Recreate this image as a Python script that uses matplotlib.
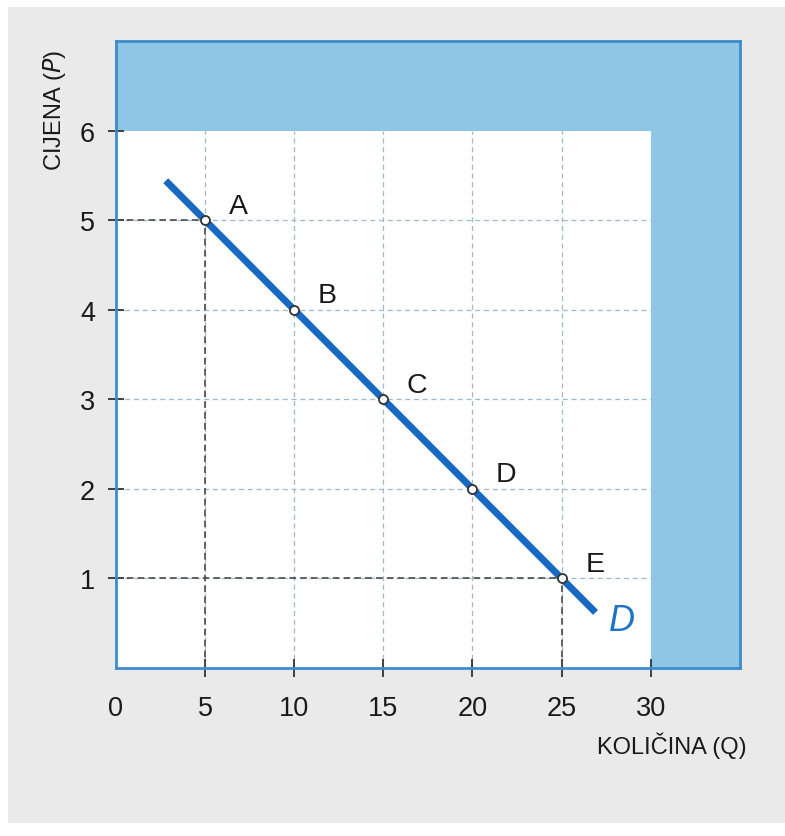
import matplotlib
matplotlib.use("Agg")
import matplotlib.pyplot as plt
from matplotlib.patches import Rectangle

# ---- data ----
point_q = [5, 10, 15, 20, 25]
point_p = [5, 4, 3, 2, 1]
point_labels = ["A", "B", "C", "D", "E"]
demand_q = [2.8, 26.9]
demand_p = [5.44, 0.62]
x_ticks = [0, 5, 10, 15, 20, 25, 30]
y_ticks = [1, 2, 3, 4, 5, 6]
grid_x = [5, 10, 15, 20, 25]
grid_y = [1, 2, 3, 4, 5]

plt.rcParams['font.family'] = ['Liberation Sans', 'DejaVu Sans']

W, H = 785, 837
fig = plt.figure(figsize=(W / 100, H / 100), dpi=100, facecolor="white")

# paper background
fig.patches.append(Rectangle((8 / W, 1 - 824 / H), 1 - 8 / W, (824 - 8) / H,
                             transform=fig.transFigure, facecolor="#eaeaea",
                             edgecolor="none", zorder=-10))

ax = fig.add_axes([115.8 / W, 1 - 669 / H, (740 - 115.8) / W, (669 - 42) / H])
ax.set_xlim(0, 35)
ax.set_ylim(0, 7)
ax.set_facecolor("#8fc6e6")
for s in ax.spines.values():
    s.set_color("#3d8ccf")
    s.set_linewidth(2)

# white plotting region
ax.add_patch(Rectangle((0, 0), 30, 6, facecolor="white", edgecolor="none", zorder=0))

light = dict(color="#9db9cc", lw=0.9, ls=(0, (4, 3)), zorder=1)
dark = dict(color="#4a4a4a", lw=1.2, ls=(0, (4, 2.5)), zorder=2)

# light grid
for gx in grid_x:
    ax.plot([gx, gx], [0, 6], **light)
for gy in grid_y:
    ax.plot([0, 30], [gy, gy], **light)

# dark guide lines from A and E
first_q, first_p = point_q[0], point_p[0]
last_q, last_p = point_q[-1], point_p[-1]
ax.plot([first_q, first_q], [0, first_p], **dark)
ax.plot([0, first_q], [first_p, first_p], **dark)
ax.plot([last_q, last_q], [0, last_p], **dark)
ax.plot([0, last_q], [last_p, last_p], **dark)

# demand curve
ax.plot(demand_q, demand_p, color="#1769c4", lw=5, solid_capstyle="butt", zorder=3)
ax.plot(point_q, point_p, "o", ms=6.5, mfc="white", mec="#333333", mew=1.3, zorder=4)

for q, p, lab in zip(point_q, point_p, point_labels):
    ax.annotate(lab, (q, p), xytext=(24, 10.5), textcoords="offset points",
                ha="center", va="center", fontsize=20.5, color="#1a1a1a", zorder=5)

ax.text(28.4, 0.53, "D", fontsize=26, style="italic", color="#1f72c6",
        ha="center", va="center", zorder=5)

# ticks
ax.set_xticks(x_ticks)
ax.set_xticklabels([str(v) for v in x_ticks])
ax.set_yticks(y_ticks)
ax.set_yticklabels([str(v) for v in y_ticks])
ax.tick_params(axis="x", direction="inout", length=13, width=1.3, color="#333333",
               labelsize=19.5, pad=13, labelcolor="#1a1a1a")
ax.tick_params(axis="y", direction="inout", length=12, width=1.3, color="#333333",
               labelsize=19.5, pad=9, labelcolor="#1a1a1a")
ax.xaxis.get_major_ticks()[0].tick1line.set_visible(False)

# axis labels
fig.text(55 / W, 1 - 110 / H, "CIJENA ($\\mathit{P}$)", rotation=90, ha="center",
         va="center", fontsize=17, color="#1a1a1a")
fig.text(747 / W, 1 - 746 / H, "KOLIČINA (Q)", ha="right", va="center",
         fontsize=17, color="#1a1a1a")

fig.savefig("out.png", dpi=100, facecolor=fig.get_facecolor())
